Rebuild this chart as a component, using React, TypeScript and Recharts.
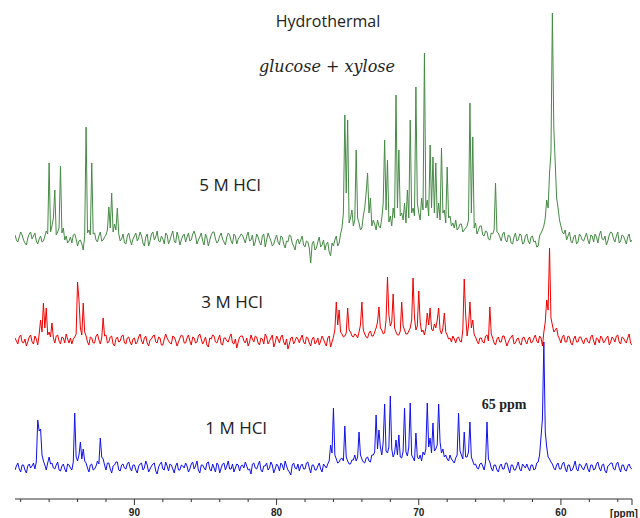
import React from "react";
import { LineChart, Line, XAxis, YAxis } from "recharts";

// 13C NMR, hydrothermal glucose + xylose, three HCl concentrations
// one intensity per ppm step, arbitrary units (0 = baseline)
const PPM_START = 98.4;
const PPM_STEP = 0.1;

const HCL5 = [
  3, -2, -4, 1, 6, 3, -2, -5, -7, 0, 4, 6, -1, 2, 5, -3, -6, -1, 2, -4, -3, 2, 7, 4, 75, 6, 12, 20, 48, 3, 6, 10, 72, 5, 10, -2, 2, -5, -3, 1,
  -5, 3, 4, -1, -8, -3, -2, -6, -12, 2, 111, 5, 8, 3, 75, 4, 5, -2, -4, 2, 6, -3, -2, 1, 3, 8, 31, 10, 45, 6, 14, 8, 30, 4, -3, -1, 4, -5, -6, 2,
  5, -2, -7, -1, 2, 5, -3, 0, 6, 2, -5, -8, 1, 4, -8, -3, 4, 6, -2, 1, 7, -3, -4, 2, -1, -6, 5, 3, -6, -2, 3, 7, -3, -5, 6, 1, -7, -2, 2, 4,
  -4, 1, 5, -3, -2, 4, 7, 2, -6, -2, 1, 5, -3, -7, 4, 0, -8, -2, 3, 6, 6, -1, -5, -3, 2, 5, -1, -4, -7, 1, 5, 3, -3, -6, 4, 2, -6, -1, 1, 4,
  3, -1, -5, 2, 6, -3, -2, 3, -8, -4, 4, 1, -4, -7, 2, 4, -9, -2, 5, 1, -3, -8, -6, -1, 3, -4, -7, 2, 1, -6, -10, -3, -4, 3, 2, -5, -8, -12, -3, -1,
  -6, -2, 2, -7, -9, -3, -4, -10, -25, -6, -3, -12, -10, -4, 1, -9, -7, -2, -12, -6, -4, -14, -18, -5, -8, -2, 2, -8, -5, 4, 10, 25, 123, 45, 118, 15, 20, 28, 12, 18,
  88, 20, 15, 8, 10, 22, 30, 45, 65, 25, 40, 12, 18, 14, 8, 18, 12, 10, 20, 35, 98, 28, 78, 16, 22, 12, 30, 20, 143, 30, 88, 22, 25, 18, 35, 15, 48, 20, 118, 25,
  30, 22, 151, 35, 25, 18, 40, 28, 185, 30, 38, 22, 93, 30, 81, 25, 75, 20, 35, 18, 90, 25, 28, 15, 71, 20, 22, 12, 15, 10, 18, 8, 10, 14, 14, 6, 8, 10, 12, 18,
  135, 25, 101, 10, 15, 4, 8, 12, 12, 3, 2, 7, 6, -1, -2, 5, 4, 8, 55, 6, 5, 1, -3, 4, 6, -2, -4, 3, 2, -5, -6, 1, 5, -3, -2, 4, 3, -6, -5, 2,
  4, -3, -6, 1, 2, -4, -3, -9, -8, 2, 5, 8, 12, 20, 38, 30, 65, 85, 225, 110, 75, 40, 30, 18, 12, 6, 4, 8, -2, 2, 6, -3, -5, 1, 3, -6, -4, 4, 2, -2,
  -3, 1, 5, -2, -6, 3, 2, -4, 4, 1, -5, 3, 7, -1, -2, 2, -7, -3, 3, 6, 5, -1, -4, 2, 6, -5, -3, 3, 2, -2, -6, 1, 4, -4, -2,
];

const HCL3 = [
  2, -1, -4, 3, 5, -2, -3, 1, -6, -2, 3, 5, -2, -4, 4, 1, -5, 6, 20, 8, 37, 12, 32, 5, 8, 3, 17, 2, -3, 4, 5, -1, -4, 3, 2, -3, 6, 1, -3, 2,
  -4, 1, 3, 6, 58, 40, 12, 5, 37, 8, 4, -2, -5, 3, 2, -3, -3, 4, 6, 0, -4, 2, 22, 4, 5, -3, -2, 3, 4, -4, -6, 1, 3, -2, -1, 4, 5, -3, -4, 2,
  3, -2, -5, 1, 2, -4, -2, 3, 6, -1, -4, 2, 4, -3, -6, 0, 1, 4, 5, -2, -3, 3, 2, -5, -5, 1, 6, 2, -1, -3, -4, 4, 3, -1, -6, -2, 2, 5, 4, -3,
  -3, 2, 5, -1, -5, 3, 2, -3, -2, 4, 6, 1, -4, -1, 3, -5, -7, 2, 1, 5, 4, -2, -3, 1, 5, -4, -5, 2, 2, -1, -2, 3, 6, -3, -4, 1, -8, -2, 3, 4,
  4, -1, -3, 2, -6, -2, 5, 1, -2, 4, 3, -3, -5, 2, 1, -4, 6, 3, -4, -1, 2, 5, -7, -3, 4, 1, -3, 3, 5, -2, -5, 1, -9, -4, 2, 3, -4, -1, 3, 1,
  -3, 2, 5, -2, -4, 3, 2, -3, -6, 1, 3, -4, -2, 2, -5, -1, 4, 1, -3, -6, 2, 4, -7, -2, 3, 10, 38, 15, 30, 8, 6, 3, 4, 7, 32, 10, 8, 4, 3, 6,
  5, 2, 8, 15, 38, 10, 6, 3, 2, 7, 9, 4, 4, 8, 12, 18, 33, 12, 10, 6, 7, 20, 63, 25, 14, 18, 46, 12, 8, 5, 5, 9, 38, 14, 10, 6, 6, 9, 12, 20,
  62, 22, 10, 14, 49, 18, 8, 10, 5, 12, 27, 15, 32, 11, 9, 16, 12, 20, 32, 10, 6, 12, 27, 8, 5, 1, 2, -2, 4, 1, -3, 2, 3, -1, -2, 10, 61, 25, 4, 14,
  38, 12, 20, 5, 3, -1, -4, 2, 2, -2, -3, 4, 5, -1, 33, 6, 2, -3, -5, 1, 3, -2, -2, 4, 4, -1, -6, -2, 1, 3, 5, -4, -3, 1, 2, -3, -5, 2, 3, -1,
  -4, 1, 3, -3, -2, 2, 5, -1, -3, 4, 2, -6, 8, 18, 40, 30, 92, 22, 15, 8, 10, 12, 4, 1, -3, 3, 5, -2, -2, 4, 3, -3, -5, 1, 4, -2, -2, 3, 3, -1,
  -4, 1, 2, -2, -3, 3, 5, -1, -5, 2, 1, -3, 4, 2, -3, -1, 2, 4, -5, -2, 3, 1, -2, 4, 5, -2, -4, 3, 2, -1, -3, 2, 6, -3, -5,
];

const HCL1 = [
  -3, 1, 4, -2, -5, 2, 2, -3, -6, 1, 3, -1, 1, 4, -2, 5, 47, 36, 38, 12, 6, 2, -3, 4, 10, 3, 4, -1, -2, 2, 5, -3, -4, 1, 3, -2, -5, 3, 2, -1,
  -3, 5, 54, 10, 6, 12, 25, 8, 18, 6, 4, -1, -5, 2, 3, -3, -2, 1, 6, 3, 29, 10, 8, 2, -3, 4, 4, -2, -6, 1, 2, 5, 5, -3, -4, 2, 3, -1, -2, 3,
  5, -1, -4, 2, 2, -3, -6, 1, 3, 4, -3, -1, 6, 2, -5, -2, 1, 3, 4, -4, -7, 0, 3, 5, -2, -3, 5, 1, -4, 3, 2, -2, -6, 1, 4, -3, -3, 2, 1, -1,
  4, 1, -5, -2, 3, 5, -2, 1, 6, -3, -6, 2, 2, -1, -3, 4, 5, -2, -4, 3, -1, -5, 4, 2, -6, -1, 3, 4, -3, 1, 6, -2, -2, 3, -5, -1, 3, 2, -4, 1,
  2, -1, 5, 1, -3, -2, -7, 3, 4, -1, -2, 2, 6, -3, -5, 1, 1, 4, -3, -1, 5, 2, -6, -2, 3, 1, -4, 4, 2, -3, 6, 1, -3, -5, -8, 2, 4, -1, -2, 3,
  -4, 1, 3, -2, -2, 4, 5, -1, -6, 2, 2, -3, -3, 1, 4, -2, -5, 3, 1, -1, 3, 6, 22, 14, 59, 12, 8, 4, 5, 8, 9, 6, 41, 10, 6, 3, 3, 7, 7, 12,
  6, 10, 35, 12, 8, 5, 4, 9, 10, 6, 5, 12, 12, 15, 52, 18, 37, 20, 12, 25, 63, 16, 14, 20, 71, 18, 10, 14, 27, 12, 32, 10, 9, 16, 59, 15, 11, 20, 64, 12,
  9, 6, 34, 10, 8, 12, 6, 15, 12, 18, 64, 20, 29, 14, 44, 16, 18, 22, 63, 25, 14, 18, 10, 12, 8, 6, 12, 8, 6, 4, 9, 12, 54, 16, 12, 8, 35, 10, 10, 15,
  45, 10, 6, 2, 3, -1, -2, 3, 4, 1, -3, 5, 45, 8, 5, -1, -4, 2, 2, -3, -5, 1, 3, -2, -2, 4, 4, -1, -6, 2, 2, -3, -3, 1, 5, -2, -4, 3, 1, -1,
  3, -1, -4, 2, 2, -3, -2, 4, 5, 12, 30, 48, 125, 35, 20, 10, 8, 5, 3, -1, -3, 2, 4, -2, -2, 3, 5, -1, -5, 2, 2, -4, -3, 1, 6, -2, -4, 3, 2, -1,
  -3, 1, 4, -2, -5, 2, 2, -3, -2, 3, 5, -1, -4, 2, 3, -4, -6, 1, 2, 4, 4, -2, -3, 3, 5, -1, -5, 2, 2, -3, -4, 1, 3, -1, -2,
];

const X_TICKS = [98, 96, 94, 92, 90, 88, 86, 84, 82, 80, 78, 76, 74, 72, 70, 68, 66, 64, 62, 60, 58, 56, 55];
const MAJOR_TICKS = [90, 80, 70, 60, 55];
const LABELED_TICKS = [90, 80, 70, 60];

const data = HCL5.map((v, i) => ({
  ppm: Math.round((PPM_START - i * PPM_STEP) * 10) / 10,
  hcl5: v,
  hcl3: HCL3[i],
  hcl1: HCL1[i],
}));

const PpmTick = (props: any) => {
  const { x, y, payload } = props;
  const v = payload.value;
  const len = MAJOR_TICKS.includes(v) ? 6 : 3;
  return (
    <g>
      <line x1={x} y1={y} x2={x} y2={y + len} stroke="#333" strokeWidth={1} />
      {LABELED_TICKS.includes(v) && (
        <text
          x={x}
          y={y + 17}
          textAnchor="middle"
          fontFamily="'Liberation Sans', Arial, sans-serif"
          fontWeight="bold"
          fontSize={10}
          fill="#222"
        >
          {v}
        </text>
      )}
    </g>
  );
};

const labelFont = "'Open Sans', 'Noto Sans', sans-serif";

export default function App() {
  return (
    <div style={{ position: "absolute", left: 0, top: 0, width: 640, height: 518, background: "#fff" }}>
      <LineChart width={640} height={518} data={data} margin={{ top: 10, right: 8, bottom: 0, left: 15 }}>
        <XAxis
          dataKey="ppm"
          type="number"
          domain={[55, 98.4]}
          allowDataOverflow
          reversed
          ticks={X_TICKS}
          interval={0}
          height={19}
          tickSize={0}
          tickMargin={0}
          tickLine={false}
          tick={<PpmTick />}
          axisLine={{ stroke: "#333", strokeWidth: 1 }}
        />
        <YAxis yAxisId="g" hide domain={[-261, 228]} allowDataOverflow />
        <YAxis yAxisId="r" hide domain={[-159, 330]} allowDataOverflow />
        <YAxis yAxisId="b" hide domain={[-32, 457]} allowDataOverflow />
        <Line yAxisId="g" dataKey="hcl5" type="linear" stroke="#468a46" strokeWidth={1} dot={false} activeDot={false} isAnimationActive={false} />
        <Line yAxisId="r" dataKey="hcl3" type="linear" stroke="#f00000" strokeWidth={1} dot={false} activeDot={false} isAnimationActive={false} />
        <Line yAxisId="b" dataKey="hcl1" type="linear" stroke="#1010f0" strokeWidth={1} dot={false} activeDot={false} isAnimationActive={false} />
      </LineChart>
      <svg width={640} height={518} style={{ position: "absolute", left: 0, top: 0, pointerEvents: "none" }}>
        <text x={328} y={27} textAnchor="middle" fontFamily={labelFont} fontSize={16} fill="#222">Hydrothermal</text>
        <text x={327} y={72} textAnchor="middle" fontFamily="'DejaVu Serif', serif" fontStyle="italic" fontSize={16} fill="#222">glucose + xylose</text>
        <text x={230} y={191} textAnchor="middle" fontFamily={labelFont} fontSize={17} fill="#222">5 M HCl</text>
        <text x={232} y={308} textAnchor="middle" fontFamily={labelFont} fontSize={17} fill="#222">3 M HCl</text>
        <text x={236} y={434} textAnchor="middle" fontFamily={labelFont} fontSize={17} fill="#222">1 M HCl</text>
        <text x={504} y={409} textAnchor="middle" fontFamily="'Liberation Serif', 'Times New Roman', serif" fontWeight="bold" fontSize={14} fill="#222">65 ppm</text>
        <text x={624} y={517} textAnchor="middle" fontFamily="'Liberation Sans', Arial, sans-serif" fontWeight="bold" fontSize={10} fill="#222">[ppm]</text>
      </svg>
    </div>
  );
}
